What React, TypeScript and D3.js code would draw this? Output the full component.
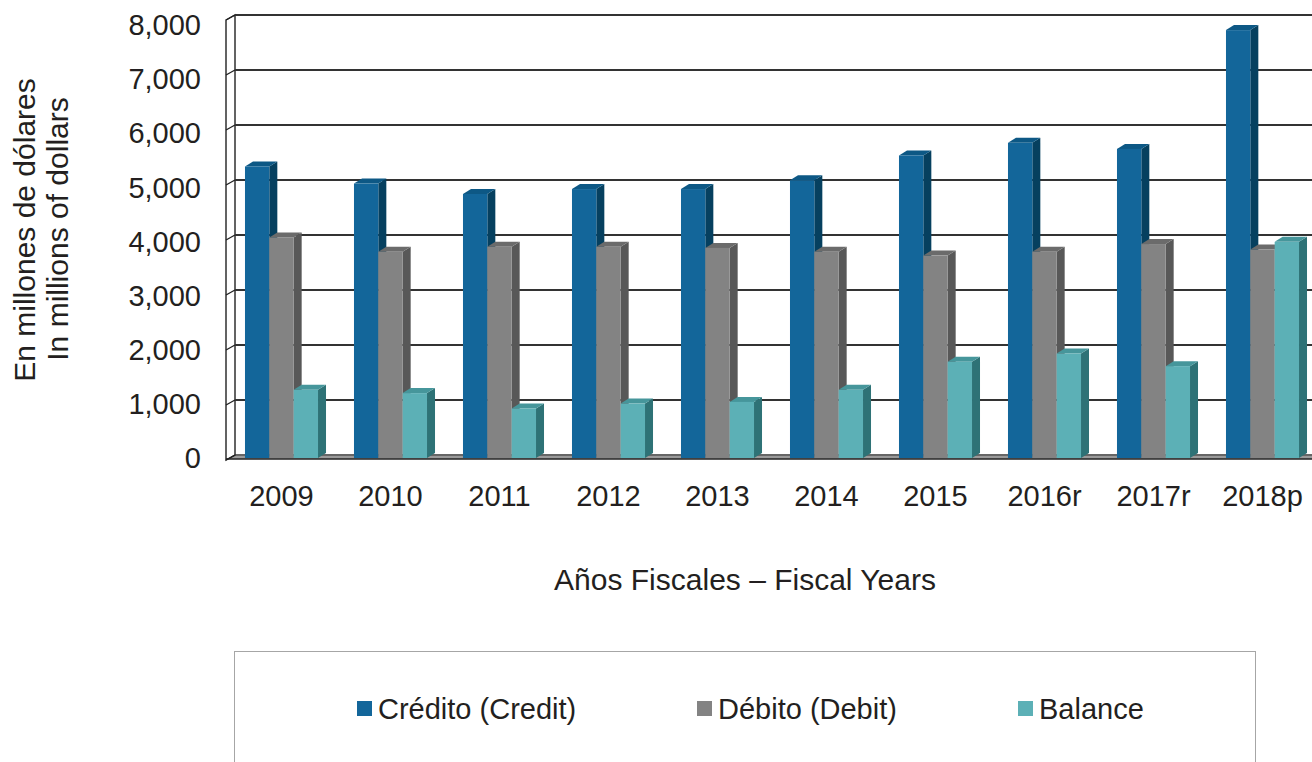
import React from "react";
import * as d3 from "d3";

const years = ["2009", "2010", "2011", "2012", "2013", "2014", "2015", "2016r", "2017r", "2018p"];
const credit = [5300, 4990, 4800, 4890, 4890, 5050, 5500, 5730, 5620, 7780];
const debit = [4010, 3750, 3840, 3840, 3820, 3750, 3680, 3750, 3890, 3790];
const balance = [1240, 1180, 900, 990, 1020, 1240, 1750, 1900, 1670, 3930];
const yTicks = [0, 1000, 2000, 3000, 4000, 5000, 6000, 7000, 8000];
const seriesNames = ["Crédito (Credit)", "Débito (Debit)", "Balance"];
const seriesKeys = ["credit", "debit", "balance"];

const colors: Record<string, { front: string; top: string; side: string }> = {
  credit: { front: "#13669a", top: "#0d5885", side: "#06405f" },
  debit: { front: "#838383", top: "#6b6b6b", side: "#585858" },
  balance: { front: "#5cb0b6", top: "#46969b", side: "#2e7276" },
};

const FONT = "'Liberation Sans', Arial, sans-serif";
const TEXT = "#231f20";

export default function App() {
  const W = 1312, H = 762;
  const frontLeft = 226;
  const depthX = 9;
  const barDX = 8, barDY = -5;

  const yBack = d3.scaleLinear().domain([0, 8000]).range([455, 15]);
  const yBar = d3.scaleLinear().domain([0, 8000]).range([458, 18]);
  const yLabel = d3.scaleLinear().domain([0, 8000]).range([458, 25]);

  const x = d3.scaleBand<string>().domain(years).range([227, 227 + 109 * years.length]).paddingInner(0.33).paddingOuter(0.165);
  const xs = d3.scaleBand<string>().domain(seriesKeys).range([0, x.bandwidth()]);

  const data: Record<string, number[]> = { credit, debit, balance };
  const backLeft = frontLeft + depthX;
  const right = W + 20;

  return (
    <svg width={W} height={H} style={{ position: "absolute", left: 0, top: 0, background: "#fff" }}>
      {/* floor */}
      <polygon
        points={`${frontLeft},${yBack(0) + 4} ${backLeft},${yBack(0) - 1} ${right},${yBack(0) - 1} ${right},${yBack(0) + 4}`}
        fill="#9a9a9a"
      />
      {/* left wall */}
      <polygon
        points={`${frontLeft},${yBack(8000) + 5} ${backLeft},${yBack(8000)} ${backLeft},${yBack(0)} ${frontLeft},${yBack(0) + 5}`}
        fill="#fff"
        stroke="#222"
        strokeWidth={1.4}
      />
      {/* gridlines */}
      {yTicks.map((t) => (
        <g key={t}>
          <line x1={backLeft} x2={right} y1={yBack(t)} y2={yBack(t)} stroke="#333" strokeWidth={t === 0 ? 1 : 1.8} />
          <line x1={frontLeft} x2={backLeft} y1={yBack(t) + 5} y2={yBack(t)} stroke="#222" strokeWidth={1.4} />
        </g>
      ))}
      <line x1={frontLeft} x2={right} y1={yBack(0) + 4} y2={yBack(0) + 4} stroke="#222" strokeWidth={1.6} />

      {/* bars */}
      {years.map((yr, i) => (
        <g key={yr}>
          {seriesKeys.map((k) => {
            const v = data[k][i];
            const x0 = (x(yr) as number) + (xs(k) as number);
            const x1 = x0 + xs.bandwidth();
            const yt = yBar(v);
            const yb = yBar(0);
            const c = colors[k];
            return (
              <g key={k}>
                <polygon
                  points={`${x1},${yt} ${x1 + barDX},${yt + barDY} ${x1 + barDX},${yb + barDY} ${x1},${yb}`}
                  fill={c.side}
                />
                <polygon
                  points={`${x0},${yt} ${x0 + barDX},${yt + barDY} ${x1 + barDX},${yt + barDY} ${x1},${yt}`}
                  fill={c.top}
                />
                <rect x={x0} y={yt} width={x1 - x0} height={yb - yt} fill={c.front} />
              </g>
            );
          })}
        </g>
      ))}

      {/* y tick labels */}
      {yTicks.map((t) => (
        <text key={t} x={201} y={yLabel(t)} dy="0.35em" textAnchor="end" fontFamily={FONT} fontSize={29} fill={TEXT}>
          {d3.format(",")(t)}
        </text>
      ))}

      {/* x labels */}
      {years.map((yr) => (
        <text key={yr} x={(x(yr) as number) + x.bandwidth() / 2} y={506} textAnchor="middle" fontFamily={FONT} fontSize={29} fill={TEXT}>
          {yr}
        </text>
      ))}

      {/* axis titles */}
      <text transform="translate(35,230) rotate(-90)" textAnchor="middle" fontFamily={FONT} fontSize={30} fill={TEXT}>
        En millones de dólares
      </text>
      <text transform="translate(68,229) rotate(-90)" textAnchor="middle" fontFamily={FONT} fontSize={30} fill={TEXT}>
        In millions of dollars
      </text>
      <text x={745} y={590} textAnchor="middle" fontFamily={FONT} fontSize={30} fill={TEXT}>
        Años Fiscales – Fiscal Years
      </text>

      {/* legend */}
      <rect x={234.5} y={651.5} width={1021} height={200} fill="none" stroke="#a6a6a6" strokeWidth={1} />
      {seriesKeys.map((k, i) => {
        const lx = [357, 697, 1018][i];
        return (
          <g key={k}>
            <rect x={lx} y={701} width={15} height={15} fill={colors[k].front} />
            <text x={lx + 21} y={719} fontFamily={FONT} fontSize={29} fill={TEXT}>
              {seriesNames[i]}
            </text>
          </g>
        );
      })}
    </svg>
  );
}
